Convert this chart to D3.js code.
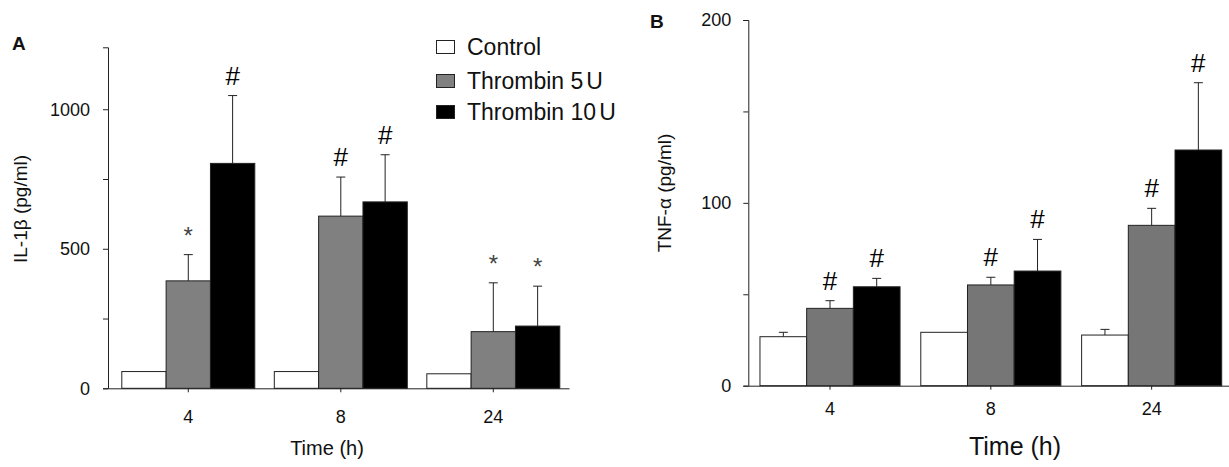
<!DOCTYPE html>
<html>
<head>
<meta charset="utf-8">
<script src="https://cdn.jsdelivr.net/npm/d3@7"></script>
<style>
  html, body { margin: 0; padding: 0; background: #fff; }
  svg { display: block; font-family: "Liberation Sans", Arial, Helvetica, sans-serif; }
</style>
</head>
<body>
<svg id="chart" width="1229" height="467"></svg>
<script>
// ---------- data ----------
const categories = ["4", "8", "24"];
const seriesNames = ["Control", "Thrombin 5U", "Thrombin 10U"];

// Panel A: IL-1β (pg/ml)
const il1bControl    = [60, 60, 52];
const il1bControlErr = [0, 0, 0];
const il1bT5         = [385, 617, 203];
const il1bT5Err      = [94, 140, 175];
const il1bT10        = [806, 668, 223];
const il1bT10Err     = [243, 169, 143];
const il1bControlSig = ["", "", ""];
const il1bT5Sig      = ["*", "#", "*"];
const il1bT10Sig     = ["#", "#", "*"];
const il1bTicks      = [0, 250, 500, 750, 1000];
const il1bTickLabels = [0, 500, 1000];

// Panel B: TNF-α (pg/ml)
const tnfControl    = [26.8, 29.2, 27.7];
const tnfControlErr = [2.4, 0, 3.1];
const tnfT5         = [42.3, 55.1, 87.7];
const tnfT5Err      = [4.2, 4.2, 9.3];
const tnfT10        = [54.1, 62.7, 128.9];
const tnfT10Err     = [4.6, 17.3, 36.8];
const tnfControlSig = ["", "", ""];
const tnfT5Sig      = ["#", "#", "#"];
const tnfT10Sig     = ["#", "#", "#"];
const tnfTicks      = [0, 50, 100, 150, 200];
const tnfTickLabels = [0, 100, 200];

// ---------- drawing ----------
const svg = d3.select("#chart");
const FONT = "'Liberation Sans', Arial, Helvetica, sans-serif";
const ink = "#222";

function panel(cfg) {
  const g = svg.append("g");
  const x = d3.scaleBand().domain(categories)
    .range(cfg.xRange).paddingInner(cfg.padIn).paddingOuter(cfg.padOut).align(cfg.align);
  const xs = d3.scaleBand().domain(seriesNames).range([0, x.bandwidth()]);
  const y = d3.scaleLinear().domain(cfg.yDomain).range(cfg.yRange);

  const rows = [];
  cfg.series.forEach((s, si) => {
    categories.forEach((c, ci) => {
      rows.push({ cat: c, name: seriesNames[si], v: s.vals[ci], e: s.errs[ci], sig: s.sig[ci], fill: s.fill });
    });
  });

  // bars
  g.selectAll("rect.bar").data(rows).join("rect")
    .attr("class", "bar")
    .attr("x", d => x(d.cat) + xs(d.name))
    .attr("y", d => y(d.v))
    .attr("width", xs.bandwidth())
    .attr("height", d => y(0) - y(d.v))
    .attr("fill", d => d.fill)
    .attr("stroke", ink)
    .attr("stroke-width", 1);

  // error bars (upward only)
  const eb = rows.filter(d => d.e > 0);
  const cx = d => x(d.cat) + xs(d.name) + xs.bandwidth() / 2;
  g.selectAll("line.err").data(eb).join("line")
    .attr("x1", cx).attr("x2", cx)
    .attr("y1", d => y(d.v)).attr("y2", d => y(d.v + d.e))
    .attr("stroke", ink).attr("stroke-width", 1);
  g.selectAll("line.cap").data(eb).join("line")
    .attr("x1", d => cx(d) - 4.5).attr("x2", d => cx(d) + 4.5)
    .attr("y1", d => y(d.v + d.e)).attr("y2", d => y(d.v + d.e))
    .attr("stroke", ink).attr("stroke-width", 1);

  // significance marks
  g.selectAll("text.sig").data(rows.filter(d => d.sig)).join("text")
    .attr("x", cx)
    .attr("y", d => y(d.v + d.e) - 11)
    .attr("text-anchor", "middle")
    .attr("font-size", d => d.sig === "*" ? 24 : 26)
    .attr("fill", d => d.sig === "*" ? "#444" : "#000")
    .text(d => d.sig);

  // y axis
  const yAxis = d3.axisLeft(y).tickValues(cfg.yTicks)
    .tickFormat(d => cfg.yLabels.includes(d) ? d : "")
    .tickSize(5).tickSizeOuter(5).tickPadding(cfg.yPad);
  const ya = g.append("g").attr("transform", `translate(${cfg.xRange[0]},0)`).call(yAxis);
  ya.selectAll("path, line").attr("stroke", ink);
  ya.selectAll("text").attr("font-size", 18).attr("font-family", FONT).attr("fill", "#111");

  // x axis
  const xAxis = d3.axisBottom(x).tickSize(4).tickSizeOuter(0).tickPadding(cfg.xPad);
  const xa = g.append("g").attr("transform", `translate(0,${y(0)})`).call(xAxis);
  xa.selectAll("path, line").attr("stroke", ink);
  xa.selectAll("text").attr("font-size", 18).attr("font-family", FONT).attr("fill", "#111");

  // axis titles
  g.append("text")
    .attr("transform", `translate(${cfg.yTitlePos[0]},${cfg.yTitlePos[1]}) rotate(-90)`)
    .attr("text-anchor", "middle")
    .attr("font-size", cfg.yTitleSize)
    .attr("fill", "#111")
    .text(cfg.yTitle);
  g.append("text")
    .attr("x", cfg.xTitlePos[0]).attr("y", cfg.xTitlePos[1])
    .attr("text-anchor", "middle")
    .attr("font-size", cfg.xTitleSize)
    .attr("fill", "#111")
    .text("Time (h)");

  // panel letter
  g.append("text")
    .attr("x", cfg.letterPos[0]).attr("y", cfg.letterPos[1])
    .attr("font-size", 19).attr("font-weight", "bold").attr("fill", "#111")
    .text(cfg.letter);
}

panel({
  letter: "A", letterPos: [12, 50],
  xRange: [108, 569], padIn: 0.128, padOut: 0.0754, align: 0.6,
  yDomain: [0, 1222], yRange: [388.3, 47.3],
  yTicks: il1bTicks, yLabels: il1bTickLabels, yPad: 13, xPad: 18,
  yTitle: "IL-1β (pg/ml)", yTitlePos: [27, 209], yTitleSize: 19,
  xTitlePos: [327, 455], xTitleSize: 20,
  series: [
    { vals: il1bControl, errs: il1bControlErr, sig: il1bControlSig, fill: "#ffffff" },
    { vals: il1bT5, errs: il1bT5Err, sig: il1bT5Sig, fill: "#808080" },
    { vals: il1bT10, errs: il1bT10Err, sig: il1bT10Sig, fill: "#000000" }
  ]
});

panel({
  letter: "B", letterPos: [650, 28],
  xRange: [748.3, 1229], padIn: 0.129, padOut: 0.059, align: 0.615,
  yDomain: [0, 200], yRange: [385.7, 20],
  yTicks: tnfTicks, yLabels: tnfTickLabels, yPad: 12, xPad: 13,
  yTitle: "TNF-α (pg/ml)", yTitlePos: [671, 193], yTitleSize: 19,
  xTitlePos: [1015, 455], xTitleSize: 25,
  series: [
    { vals: tnfControl, errs: tnfControlErr, sig: tnfControlSig, fill: "#ffffff" },
    { vals: tnfT5, errs: tnfT5Err, sig: tnfT5Sig, fill: "#767676" },
    { vals: tnfT10, errs: tnfT10Err, sig: tnfT10Sig, fill: "#000000" }
  ]
});

// legend (panel A)
const legendFills = ["#ffffff", "#808080", "#000000"];
const legendBase = [55, 89, 120];
const lg = svg.append("g");
seriesNames.forEach((name, i) => {
  lg.append("rect")
    .attr("x", 436.5).attr("y", legendBase[i] - 14.5)
    .attr("width", 18).attr("height", 13)
    .attr("fill", legendFills[i]).attr("stroke", ink).attr("stroke-width", 1);
  const t = lg.append("text")
    .attr("x", 467).attr("y", legendBase[i])
    .attr("font-size", 23).attr("fill", "#111");
  const m = name.match(/^(.*\d)(U)$/);
  if (m) {
    t.append("tspan").text(m[1]);
    t.append("tspan").attr("dx", 3).text(m[2]);
  } else {
    t.text(name);
  }
});
</script>
</body>
</html>
